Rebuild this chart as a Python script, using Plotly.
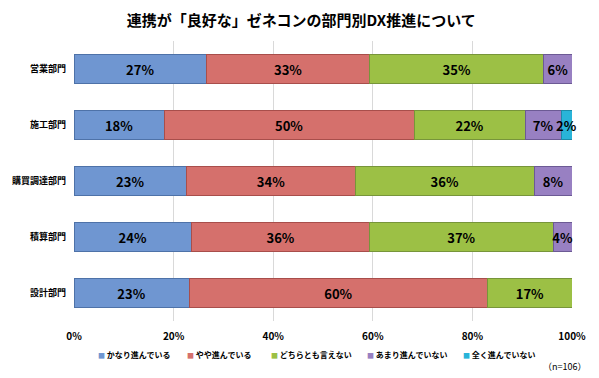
import plotly.graph_objects as go

categories = ["営業部門", "施工部門", "購買調達部門", "積算部門", "設計部門"]
series_names = ["かなり進んでいる", "やや進んでいる", "どちらとも言えない", "あまり進んでいない", "全く進んでいない"]
s1 = [26.6, 18.1, 22.6, 23.6, 23.1]
s2 = [32.8, 50.2, 33.9, 35.8, 60.0]
s3 = [34.9, 22.3, 35.9, 36.8, 16.9]
s4 = [5.7, 7.2, 7.6, 3.8, 0]
s5 = [0, 2.2, 0, 0, 0]
series_values = [s1, s2, s3, s4, s5]
tick_vals = [0, 20, 40, 60, 80, 100]
tick_text = ["0%", "20%", "40%", "60%", "80%", "100%"]

colors = ["#6F96D1", "#D5706C", "#9CC045", "#9880C2", "#29B4D9"]
edges = ["#4E72A8", "#A84E4B", "#77953A", "#6C5A94", "#1C8BA9"]
legend_x = [0.044, 0.223, 0.392, 0.584, 0.777]  # paper positions of legend entries

FONT = "Noto Sans CJK JP"
LBL = dict(family=FONT, size=13, color="#000000", weight="bold")
fig = go.Figure()
annotations = []
cum = [0.0] * len(categories)
for i, (name, vals, c, e) in enumerate(zip(series_names, series_values, colors, edges)):
    texts = [f"{v:.0f}%" if v > 0 else "" for v in vals]
    last = i == len(series_values) - 1
    fig.add_trace(go.Bar(
        y=categories, x=vals, orientation="h", name=name,
        marker=dict(color=c, line=dict(color=e, width=1)),
        text=texts, textposition="none" if last else "inside",
        insidetextanchor="middle", textangle=0,
        textfont=LBL, constraintext="none", cliponaxis=False, showlegend=False,
        hoverinfo="skip",
    ))
    if last:
        # labels for the thin last segment, drawn over the bar end
        for cat, base, v, t in zip(categories, cum, vals, texts):
            if v > 0:
                annotations.append(dict(text=t, x=base + v / 2, y=cat, xref="x", yref="y",
                                        xanchor="center", yanchor="middle", showarrow=False,
                                        font=LBL))
    cum = [a + b for a, b in zip(cum, vals)]

for name, c, lx in zip(series_names, colors, legend_x):
    annotations.append(dict(
        text=f"<span style='color:{c};font-size:7px'>■</span> {name}",
        x=lx, y=-0.118, xref="paper", yref="paper", xanchor="left", yanchor="middle",
        showarrow=False, font=dict(family=FONT, size=8, color="#000000", weight="bold")))
annotations.append(dict(text="（n=106）", x=0.985, y=-0.162, xref="paper", yref="paper",
                        xanchor="center", yanchor="middle", showarrow=False,
                        font=dict(family=FONT, size=9, color="#000000")))

fig.update_layout(
    width=599, height=378,
    barmode="stack", bargap=0.49,
    plot_bgcolor="white", paper_bgcolor="white",
    margin=dict(l=74, r=27, t=41, b=57, autoexpand=False),
    title=dict(text="<b>連携が「良好な」ゼネコンの部門別DX推進について</b>",
               x=0.503, xanchor="center", y=0.944, yanchor="middle",
               font=dict(family=FONT, size=15, color="#000000")),
    uniformtext=dict(minsize=13, mode="show"),
    showlegend=False,
    xaxis=dict(range=[0, 100], tickvals=tick_vals, ticktext=tick_text,
               showgrid=True, gridcolor="#D9D9D9", gridwidth=1, automargin=False,
               zeroline=False, showline=False, ticks="",
               tickfont=dict(family=FONT, size=10, color="#000000", weight="bold"),
               ticklabelstandoff=8),
    yaxis=dict(autorange="reversed", showgrid=False, ticks="", showline=False,
               automargin=False,
               tickfont=dict(family=FONT, size=9, color="#000000", weight="bold"),
               ticklabelstandoff=7),
    annotations=annotations,
)

fig.write_html("out.html", config={"displayModeBar": False},
               post_script="document.body.style.margin='0';")
